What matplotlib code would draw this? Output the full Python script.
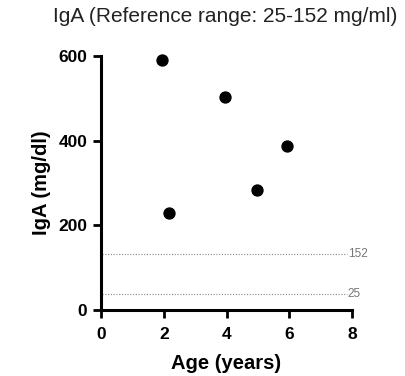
import matplotlib
matplotlib.use("Agg")
import matplotlib.pyplot as plt

plt.rcParams['font.family'] = ['Liberation Sans', 'DejaVu Sans']

age = [1.93, 3.95, 5.94, 4.96, 2.15]
iga = [589, 502, 387, 283, 229]
ref_levels = [133, 38]
ref_labels = ["152", "25"]
xticks = [0, 2, 4, 6, 8]
yticks = [0, 200, 400, 600]

fig = plt.figure(figsize=(4.06, 3.76), dpi=100)
ax = fig.add_axes([0.249, 0.1755, 0.618, 0.676])
ax.set_xlim(0, 8)
ax.set_ylim(0, 600)

for lvl, lab in zip(ref_levels, ref_labels):
    ax.plot([0.03, 7.85], [lvl, lvl], linestyle=(0, (1, 1.5)), color='#888888', lw=0.8, clip_on=False)
    ax.text(7.87, lvl, lab, fontsize=8.5, color='#777777', va='center', ha='left')

ax.scatter(age, iga, s=62, color='black', zorder=3, clip_on=False)

for s in ['top', 'right']:
    ax.spines[s].set_visible(False)
for s in ['left', 'bottom']:
    ax.spines[s].set_linewidth(2.2)

ax.set_xticks(xticks)
ax.set_yticks(yticks)
ax.tick_params(axis='both', width=2, length=6, labelsize=12.5)
ax.tick_params(axis='x', pad=6)
ax.tick_params(axis='y', pad=4)
for lab in ax.get_xticklabels() + ax.get_yticklabels():
    lab.set_fontweight('bold')

ax.set_xlabel("Age (years)", fontsize=14.5, fontweight='bold', labelpad=9)
ax.set_ylabel("IgA (mg/dl)", fontsize=14.5, fontweight='bold', labelpad=5)
fig.text(0.554, 0.957, "IgA (Reference range: 25-152 mg/ml)", fontsize=15, ha='center', va='center', color='#222222')

fig.savefig("out.png", dpi=100)
